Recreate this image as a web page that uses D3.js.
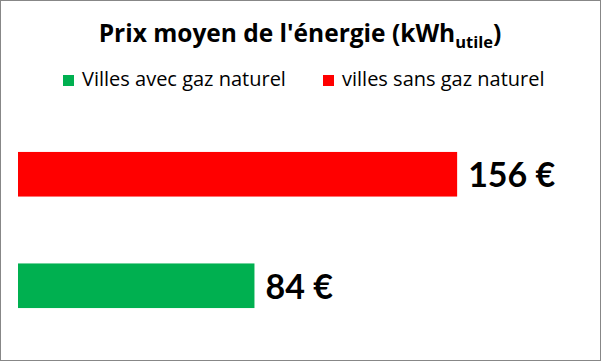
<!DOCTYPE html>
<html><head><meta charset="utf-8">
<script src="https://cdn.jsdelivr.net/npm/d3@7"></script>
<style>body{margin:0;background:#fff}svg{display:block}</style>
</head><body>
<script>
const categories = ["villes sans gaz naturel", "Villes avec gaz naturel"];
const values = [156, 84];
const colors = ["#ff0000", "#00b050"];
const legendOrder = ["Villes avec gaz naturel", "villes sans gaz naturel"];
const legendColors = ["#00b050", "#ff0000"];
const valueLabels = ["156 €", "84 €"];

const W = 601, H = 361;
const svg = d3.select("body").append("svg").attr("width", W).attr("height", H);
svg.append("rect").attr("x", 0.5).attr("y", 0.5).attr("width", W - 1).attr("height", H - 1)
  .attr("fill", "#fff").attr("stroke", "#878787");

const title = svg.append("text").attr("x", 300).attr("y", 41.5).attr("text-anchor", "middle")
  .attr("font-family", "'Open Sans', sans-serif").attr("font-weight", "bold").attr("font-size", 24.5).attr("fill", "#000");
title.append("tspan").text("Prix moyen de l'énergie (kWh");
title.append("tspan").text("utile").attr("font-size", 16.5).attr("dy", 6);
title.append("tspan").text(")").attr("dy", -6);

const legendX = [63, 323];
legendOrder.forEach((name, i) => {
  const g = svg.append("g");
  g.append("rect").attr("x", legendX[i]).attr("y", 75).attr("width", 11).attr("height", 11).attr("fill", legendColors[i]);
  g.append("text").attr("x", legendX[i] + 19).attr("y", 86).text(name)
    .attr("font-family", "'Open Sans', sans-serif").attr("font-size", 20).attr("fill", "#000");
});

const x = d3.scaleLinear().domain([0, 200]).range([18, 581]);
const y = d3.scaleBand().domain(categories).range([118.5, 341.5]).paddingInner(0.6).paddingOuter(0.3);

svg.selectAll("rect.bar").data(categories).join("rect").attr("class", "bar")
  .attr("x", x(0)).attr("y", d => y(d))
  .attr("width", (d, i) => x(values[i]) - x(0)).attr("height", y.bandwidth())
  .attr("fill", (d, i) => colors[i]);

svg.selectAll("text.val").data(categories).join("text").attr("class", "val")
  .attr("x", (d, i) => x(values[i]) + 11).attr("y", d => y(d) + y.bandwidth() / 2 + 13)
  .text((d, i) => valueLabels[i])
  .attr("font-family", "Lato, sans-serif").attr("font-weight", "bold").attr("font-size", 34).attr("fill", "#000");
</script>
</body></html>
